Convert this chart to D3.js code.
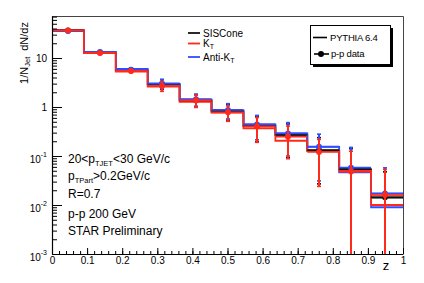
<!DOCTYPE html>
<meta charset="utf-8">
<title>1/NJet dN/dz</title>
<style>
body { margin: 0; background: #fff; }
svg { font-family: 'Liberation Sans', Arial, sans-serif; }
.axis .domain { stroke: #000; stroke-width: 1.2; }
.axis line { stroke: #000; }
</style>
<body>
<svg width="424" height="283"></svg>
<script src="https://d3js.org/d3.v7.min.js"></script>
<script>
// bin edges in z (11 bins)
var binEdges = [0, 0.0909, 0.1818, 0.2727, 0.3636, 0.4545, 0.5455, 0.6364, 0.7273, 0.8182, 0.9091, 1];
// z of the data points
var zPoint = [0.045, 0.136, 0.225, 0.314, 0.41, 0.5, 0.584, 0.673, 0.76, 0.851, 0.948];

// PYTHIA 6.4 histograms
var pySIS  = [36.4, 12.95, 5.56, 2.88, 1.36, 0.81, 0.41, 0.268, 0.129, 0.053, 0.0142];
var pyKT   = [37.3, 12.65, 5.30, 2.62, 1.28, 0.765, 0.367, 0.205, 0.126, 0.050, 0.0100];
var pyAKT  = [35.6, 13.25, 5.97, 2.95, 1.42, 0.85, 0.44, 0.288, 0.153, 0.0465, 0.0090];

// p-p data
var dataSIS = [36.4, 12.95, 5.69, 2.95, 1.37, 0.83, 0.415, 0.272, 0.132, 0.0543, 0.0144];
var dataKT  = [36.4, 12.65, 5.43, 2.68, 1.36, 0.78, 0.40, 0.248, 0.121, 0.0483, 0.0160];
var dataAKT = [35.6, 13.25, 5.82, 3.02, 1.44, 0.87, 0.444, 0.29, 0.155, 0.0577, 0.0173];

// data errors
var errSIS = [1.5, 0.5, 0.4, 0.65, 0.38, 0.29, 0.22, 0.18, 0.105, 0.087, 0.033];
var errKT  = [1.5, 0.5, 0.4, 0.59, 0.38, 0.27, 0.21, 0.16, 0.097, 0.077, 0.037];
var errAKT = [1.5, 0.5, 0.4, 0.66, 0.40, 0.30, 0.23, 0.19, 0.124, 0.092, 0.040];

var xTicks = [0, 0.1, 0.2, 0.3, 0.4, 0.5, 0.6, 0.7, 0.8, 0.9, 1];
var yDecades = [1e-3, 1e-2, 1e-1, 1, 10];
var yLabels = [["10", "-3"], ["10", "-2"], ["10", "-1"], ["1", ""], ["10", ""]];

var black = "#111", red = "#ff2a1a", blue = "#2f4dff";

var svg = d3.select("svg"),
    margin = {top: 16, right: 21, bottom: 29, left: 52},
    W = +svg.attr("width"), H = +svg.attr("height");

var x = d3.scaleLinear().domain([0, 1]).range([margin.left, W - margin.right]);
var y = d3.scaleLog().domain([1e-3, 72]).range([H - margin.bottom, margin.top]);

svg.append("clipPath").attr("id", "frame")
  .append("rect")
    .attr("x", x(0)).attr("y", y.range()[1])
    .attr("width", x(1) - x(0)).attr("height", y.range()[0] - y.range()[1]);

// frame top/right
svg.append("path")
  .attr("d", "M" + x(0) + "," + (y.range()[1] + 0.5) + "H" + (x(1) + 0.5) + "V" + y.range()[0])
  .attr("fill", "none").attr("stroke", "#444").attr("stroke-width", 1);

var plot = svg.append("g").attr("clip-path", "url(#frame)");

function histo(vals, color) {
  var pts = [];
  vals.forEach(function(v, i) {
    pts.push([binEdges[i], v]);
    pts.push([binEdges[i + 1], v]);
  });
  plot.append("path")
    .datum(pts)
    .attr("fill", "none")
    .attr("stroke", color)
    .attr("stroke-width", 1.8)
    .attr("d", d3.line().x(function(d) { return x(d[0]); }).y(function(d) { return y(d[1]); }));
}

function dataSeries(vals, errs, color) {
  var g = plot.append("g");
  var px = function(d, i) { return Math.round(x(zPoint[i])); };
  // horizontal bin bars
  g.selectAll(".hbar").data(vals).enter().append("line")
    .attr("x1", function(d, i) { return x(binEdges[i]); })
    .attr("x2", function(d, i) { return x(binEdges[i + 1]); })
    .attr("y1", function(d) { return y(d); })
    .attr("y2", function(d) { return y(d); })
    .attr("stroke", color).attr("stroke-width", 1.8);
  // vertical error bars
  var lo = function(d, i) { return d - errs[i] > 1e-3 ? y(d - errs[i]) : y.range()[0] + 2; };
  var hi = function(d, i) { return y(d + errs[i]); };
  g.selectAll(".ebar").data(vals).enter().append("line")
    .attr("x1", px).attr("x2", px)
    .attr("y1", hi).attr("y2", lo)
    .attr("stroke", color).attr("stroke-width", 2);
  g.selectAll(".cap").data(vals).enter().append("line")
    .attr("x1", function(d, i) { return px(d, i) - 2; })
    .attr("x2", function(d, i) { return px(d, i) + 2; })
    .attr("y1", hi).attr("y2", hi)
    .attr("stroke", color).attr("stroke-width", 1.6);
  g.selectAll(".capl").data(vals).enter().append("line")
    .attr("x1", function(d, i) { return px(d, i) - 2; })
    .attr("x2", function(d, i) { return px(d, i) + 2; })
    .attr("y1", lo).attr("y2", lo)
    .attr("stroke", color).attr("stroke-width", 1.6);
  g.selectAll("circle").data(vals).enter().append("circle")
    .attr("cx", px)
    .attr("cy", function(d) { return y(d); })
    .attr("r", 2.9)
    .attr("fill", color);
}

histo(pySIS, black);
histo(pyAKT, blue);
histo(pyKT, red);
dataSeries(dataSIS, errSIS, black);
dataSeries(dataAKT, errAKT, blue);
dataSeries(dataKT, errKT, red);

// x axis
var xMinor = d3.range(0, 51).map(function(i) { return i / 50; });
svg.append("g")
    .attr("class", "axis")
    .attr("transform", "translate(0," + y.range()[0] + ")")
    .call(d3.axisBottom(x).tickValues(xMinor).tickSize(-3).tickFormat(""))
    .select(".domain").remove();
var gx = svg.append("g")
    .attr("class", "axis")
    .attr("transform", "translate(0," + y.range()[0] + ")")
    .call(d3.axisBottom(x).tickValues(xTicks).tickSizeInner(-6).tickSizeOuter(0).tickPadding(3)
      .tickFormat(function(d) { return String(+d.toFixed(1)); }));
gx.selectAll("text").attr("font-size", 10).attr("fill", "#000").attr("font-family", "'Liberation Sans', Arial, sans-serif");

// y axis
var yMinor = y.ticks().filter(function(d) { return yDecades.indexOf(d) < 0; });
svg.append("g")
    .attr("class", "axis")
    .attr("transform", "translate(" + x(0) + ",0)")
    .call(d3.axisLeft(y).tickValues(yMinor).tickSize(-5).tickFormat(""))
    .select(".domain").remove();
var gy = svg.append("g")
    .attr("class", "axis")
    .attr("transform", "translate(" + x(0) + ",0)")
    .call(d3.axisLeft(y).tickValues(yDecades).tickSizeInner(-10).tickSizeOuter(0).tickPadding(5).tickFormat(""));
gy.selectAll(".tick").each(function(d, i) {
  var lab = yLabels[i];
  var t = d3.select(this).append("text")
    .attr("x", -5).attr("text-anchor", "end")
    .attr("font-size", 10).attr("fill", "#000")
    .attr("font-family", "'Liberation Sans', Arial, sans-serif")
    .attr("dy", lab[1] ? "0.62em" : "0.35em");
  t.append("tspan").text(lab[0]);
  if (lab[1]) t.append("tspan").attr("font-size", 7).attr("dy", "-0.75em").text(lab[1]);
});

// axis titles
svg.append("text")
    .attr("x", x(1) - 17).attr("y", 270)
    .attr("text-anchor", "middle").attr("font-size", 13)
    .text("z");

var yt = svg.append("text")
    .attr("transform", "translate(28,22) rotate(-90)")
    .attr("text-anchor", "end").attr("font-size", 11);
yt.append("tspan").text("1/N");
yt.append("tspan").attr("font-size", 7.5).attr("dy", 2).text("Jet");
yt.append("tspan").attr("dy", -2).attr("dx", 6).text("dN/dz");

// info text
var info = [
  [["20<p", 0], ["TJET", 1], ["<30 GeV/c", 0]],
  [["p", 0], ["TPart", 1], [">0.2GeV/c", 0]],
  [["R=0.7", 0]],
  [["p-p 200 GeV", 0]],
  [["STAR Preliminary", 0]]
];
var infoY = [163, 179.5, 198, 218, 235];
info.forEach(function(line, i) {
  var t = svg.append("text").attr("x", 68).attr("y", infoY[i]).attr("font-size", 12);
  line.forEach(function(p, j) {
    var prev = j > 0 ? line[j - 1][1] : 0;
    var s = t.append("tspan").text(p[0]);
    if (p[1]) s.attr("font-size", 7.5).attr("dy", 3);
    else if (prev) s.attr("dy", -3);
  });
});

// algorithm legend
var algos = [["SISCone", "", black, 33], ["K", "T", red, 43.5], ["Anti-K", "T", blue, 57]];
algos.forEach(function(a) {
  svg.append("line").attr("x1", 188).attr("x2", 200).attr("y1", a[3]).attr("y2", a[3])
    .attr("stroke", a[2]).attr("stroke-width", 1.8);
  var t = svg.append("text").attr("x", 203).attr("y", a[3]).attr("dy", "0.35em").attr("font-size", 10);
  t.append("tspan").text(a[0]);
  if (a[1]) t.append("tspan").attr("font-size", 7).attr("dy", 2).text(a[1]);
});

// PYTHIA / data legend
var lg = svg.append("g");
lg.append("rect").attr("x", 313).attr("y", 28).attr("width", 80).attr("height", 39).attr("fill", "#000");
lg.append("rect").attr("x", 310.5).attr("y", 25.5).attr("width", 80).attr("height", 39)
  .attr("fill", "#fff").attr("stroke", "#000").attr("stroke-width", 1);
lg.append("line").attr("x1", 313).attr("x2", 327).attr("y1", 37.5).attr("y2", 37.5)
  .attr("stroke", "#000").attr("stroke-width", 1.6);
lg.append("text").attr("x", 330).attr("y", 37.5).attr("dy", "0.35em").attr("font-size", 9.5)
  .attr("letter-spacing", "-0.2").text("PYTHIA 6.4");
lg.append("line").attr("x1", 314).attr("x2", 329).attr("y1", 54).attr("y2", 54)
  .attr("stroke", "#000").attr("stroke-width", 1.6);
lg.append("circle").attr("cx", 321).attr("cy", 54).attr("r", 3).attr("fill", "#000");
lg.append("text").attr("x", 331).attr("y", 54).attr("dy", "0.35em").attr("font-size", 9.5)
  .attr("letter-spacing", "-0.2").text("p-p data");
</script>
</body>
